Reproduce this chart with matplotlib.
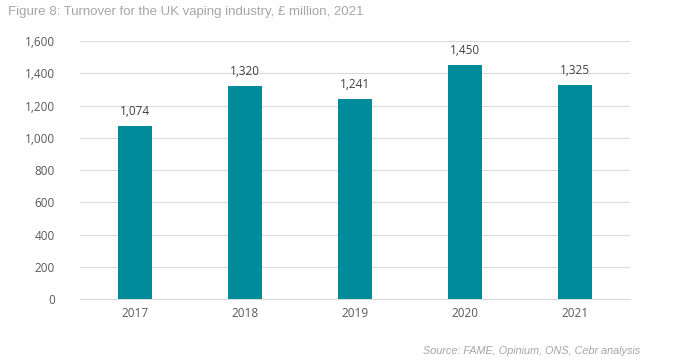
import matplotlib
matplotlib.use("Agg")
import matplotlib.pyplot as plt

years = ["2017", "2018", "2019", "2020", "2021"]
turnover = [1074, 1320, 1241, 1450, 1325]
yticks = [0, 200, 400, 600, 800, 1000, 1200, 1400, 1600]

fig = plt.figure(figsize=(7, 3.6), dpi=100)
ax = fig.add_axes([0.114, 0.169, 0.786, 0.717])
x = range(len(years))
ax.bar(x, turnover, width=0.31, color="#008B9A", zorder=3)
ax.set_xlim(-0.5, len(years) - 0.5)
ax.set_ylim(0, 1600)
ax.set_yticks(yticks)
ax.set_yticklabels([f"{v:,}" for v in yticks])
ax.set_xticks(list(x))
ax.set_xticklabels(years)
ax.grid(axis="y", color="#d9d9d9", linewidth=0.8, zorder=0)
for s in ["top", "right", "left"]:
    ax.spines[s].set_visible(False)
ax.spines["bottom"].set_color("#d9d9d9")
ax.tick_params(axis="both", length=0, colors="#595959", labelsize=8.5)
ax.tick_params(axis="y", pad=18)
ax.tick_params(axis="x", pad=6)
for lab in ax.get_xticklabels() + ax.get_yticklabels():
    lab.set_family("Open Sans")
for i, v in enumerate(turnover):
    ax.annotate(f"{v:,}", (i, v), xytext=(0, 6), textcoords="offset points",
                ha="center", va="bottom", fontsize=8.5, color="#404040", family="Open Sans")

fig.text(8 / 700, 1 - 12 / 360, "Figure 8: Turnover for the UK vaping industry, £ million, 2021",
         fontsize=9.5, color="#a6a6a6", family="Liberation Sans", va="center", ha="left")
fig.text(640 / 700, 1 - 351 / 360, "Source: FAME, Opinium, ONS, Cebr analysis",
         fontsize=7.8, color="#a6a6a6", family="Liberation Sans", style="italic", va="center", ha="right")
fig.savefig("out.png", dpi=100)
